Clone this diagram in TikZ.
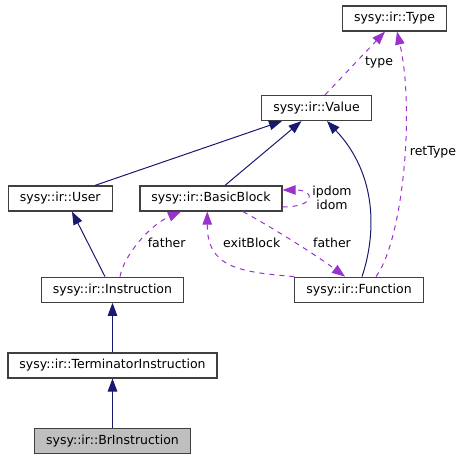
\documentclass[tikz,border=0pt]{standalone}
\usepackage{fontspec}
\setmainfont{DejaVu Sans}
\usetikzlibrary{arrows.meta}
\definecolor{inherit-blue}{HTML}{191970}
\definecolor{usage-purple}{HTML}{9A32CD}
\definecolor{box-border}{HTML}{404040}
\definecolor{root-fill}{HTML}{BFBFBF}

\begin{document}
\begin{tikzpicture}[x=1pt, y=-1pt,
    every node/.style={font={\fontsize{12.5}{14}\selectfont}},
    cls/.style={draw=box-border, line width=1.2pt, fill=white,
      minimum height=25pt, inner xsep=11.5pt, inner ysep=0pt},
    clsroot/.style={cls, fill=root-fill},
    inherit/.style={draw=inherit-blue, line width=1pt,
      -{Triangle[length=13pt, width=9.5pt]}, inherit-blue},
    usage/.style={draw=usage-purple, line width=1pt, dash pattern=on 5pt off 5pt,
      -{Triangle[length=13pt, width=9.5pt, fill=usage-purple]}},
    lbl/.style={text=black, inner sep=0pt, align=center}]
    \useasboundingbox (0,0) rectangle (463,460);
    % classes
    \node[cls] (type) at (394.5,18.5) {sysy::ir::Type};
    \node[cls] (value) at (316.5,108) {sysy::ir::Value};
    \node[cls] (user) at (60.3,198.5) {sysy::ir::User};
    \node[cls] (block) at (211,198.5) {sysy::ir::BasicBlock};
    \node[cls] (instr) at (112.5,289.7) {sysy::ir::Instruction};
    \node[cls] (func) at (359,289.7) {sysy::ir::Function};
    \node[cls] (term) at (112.5,365.4) {sysy::ir::TerminatorInstruction};
    \node[clsroot] (br) at (112.5,441.2) {sysy::ir::BrInstruction};
    % inheritance
    \draw[inherit] ([xshift=34.7pt]user.north) -- ([xshift=-34.5pt]value.south);
    \draw[inherit] ([xshift=14pt]block.north) -- ([xshift=-15pt]value.south);
    \draw[inherit] ([xshift=3pt]func.north) .. controls (376,235) and (378,175)
      .. ([xshift=10.5pt]value.south);
    \draw[inherit] ([xshift=-7.5pt]instr.north) -- ([xshift=11.7pt]user.south);
    \draw[inherit] (term) -- (instr);
    \draw[inherit] (br) -- (term);
    % members
    \draw[usage] ([xshift=8.5pt]value.north) -- ([xshift=-9.5pt]type.south);
    \node[lbl] (ltype) at (379,62) {type};
    \draw[usage] ([xshift=17pt]func.north) .. controls (403,240) and (415,110)
      .. ([xshift=2.5pt]type.south);
    \node[lbl] (lret) at (433,152) {retType};
    \draw[usage] ([yshift=-8.5pt]block.east) .. controls (316,207) and (316,190)
      .. ([yshift=8.5pt]block.east);
    \node[lbl] (ldom) at (332,197.7) {ipdom\\idom};
    \draw[usage] ([xshift=32pt]block.south) .. controls (280,232) and (320,258)
      .. ([xshift=-14pt]func.north);
    \node[lbl] (lfunc) at (332,242.7) {father};
    \draw[usage] (func.north west) .. controls (240,272) and (207,268)
      .. ([xshift=-3.7pt]block.south);
    \node[lbl] (lexit) at (251.7,242.7) {exitBlock};
    \draw[usage] ([xshift=7.5pt]instr.north) .. controls (124,255) and (150,225)
      .. ([xshift=-30pt]block.south);
    \node[lbl] (lblock) at (166.7,242.7) {father};
\end{tikzpicture}
\end{document}
